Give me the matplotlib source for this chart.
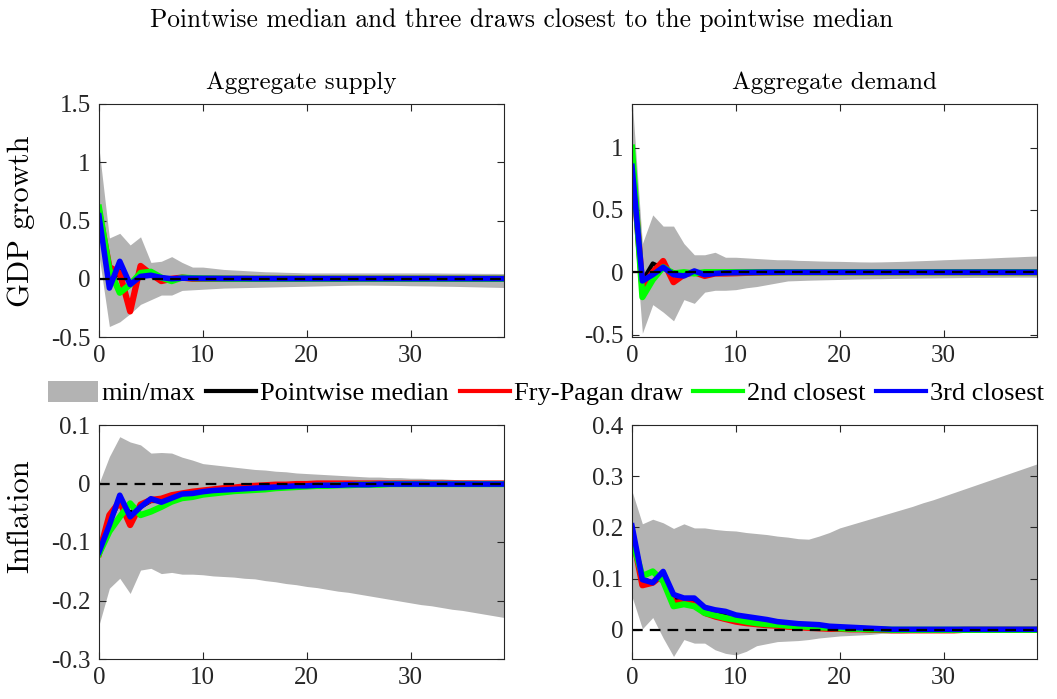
import numpy as np
import matplotlib
matplotlib.use("Agg")
import matplotlib.pyplot as plt
from matplotlib.patches import Patch
from matplotlib.lines import Line2D

plt.rcParams['font.family'] = ['Liberation Serif', 'DejaVu Serif']
plt.rcParams['axes.unicode_minus'] = False

# horizon
t = np.arange(40)

# --- GDP growth / Aggregate supply ---
gdp_as_max = [1.12, 0.35, 0.39, 0.29, 0.36, 0.14, 0.15, 0.19, 0.14, 0.10,
              0.10, 0.09, 0.08, 0.075, 0.07, 0.065, 0.06, 0.058, 0.055, 0.053,
              0.05, 0.05, 0.05, 0.05, 0.05, 0.05, 0.05, 0.05, 0.05, 0.05,
              0.05, 0.05, 0.05, 0.049, 0.048, 0.048, 0.047, 0.046, 0.046, 0.045]
gdp_as_min = [0.20, -0.41, -0.37, -0.30, -0.22, -0.18, -0.14, -0.14, -0.10, -0.095,
              -0.09, -0.085, -0.08, -0.078, -0.076, -0.074, -0.072, -0.07, -0.068, -0.066,
              -0.064, -0.062, -0.06, -0.058, -0.056, -0.055, -0.055, -0.056, -0.057, -0.058,
              -0.06, -0.061, -0.062, -0.064, -0.065, -0.067, -0.069, -0.071, -0.073, -0.075]
gdp_as_med = [0.55, -0.05, 0.07, -0.03, 0.03, 0.03, 0.01, 0.0, 0.005, 0.003,
              0.002, 0.002, 0.001, 0.001, 0.001, 0.0, 0.0, 0.0, 0.0, 0.0,
              0.0, 0.0, 0.0, 0.0, 0.0, 0.0, 0.0, 0.0, 0.0, 0.0,
              0.0, 0.0, 0.0, 0.0, 0.0, 0.0, 0.0, 0.0, 0.0, 0.0]
gdp_as_fp = [0.58, 0.10, 0.05, -0.28, 0.11, 0.04, -0.02, 0.0, 0.01, 0.0,
             0.0, 0.0, 0.0, 0.0, 0.0, 0.0, 0.0, 0.0, 0.0, 0.0,
             0.0, 0.0, 0.0, 0.0, 0.0, 0.0, 0.0, 0.0, 0.0, 0.0,
             0.0, 0.0, 0.0, 0.0, 0.0, 0.0, 0.0, 0.0, 0.0, 0.0]
gdp_as_2nd = [0.61, 0.08, -0.12, -0.05, 0.05, 0.06, 0.01, -0.02, 0.01, 0.005,
              0.003, 0.002, 0.001, 0.0, 0.0, 0.0, 0.0, 0.0, 0.0, 0.0,
              0.0, 0.0, 0.0, 0.0, 0.0, 0.0, 0.0, 0.0, 0.0, 0.0,
              0.0, 0.0, 0.0, 0.0, 0.0, 0.0, 0.0, 0.0, 0.0, 0.0]
gdp_as_3rd = [0.54, -0.08, 0.15, -0.05, 0.02, 0.03, 0.01, 0.0, 0.005, 0.004,
              0.003, 0.003, 0.002, 0.002, 0.002, 0.001, 0.001, 0.001, 0.001, 0.001,
              0.001, 0.001, 0.001, 0.001, 0.001, 0.001, 0.001, 0.001, 0.001, 0.001,
              0.001, 0.001, 0.001, 0.001, 0.001, 0.001, 0.001, 0.001, 0.001, 0.001]

# --- GDP growth / Aggregate demand ---
gdp_ad_max = [1.40, 0.23, 0.46, 0.37, 0.37, 0.23, 0.14, 0.14, 0.16, 0.12,
              0.12, 0.115, 0.11, 0.105, 0.10, 0.10, 0.095, 0.093, 0.09, 0.088,
              0.087, 0.085, 0.083, 0.082, 0.083, 0.085, 0.087, 0.09, 0.093, 0.096,
              0.10, 0.103, 0.106, 0.109, 0.112, 0.116, 0.12, 0.123, 0.127, 0.13]
gdp_ad_min = [0.60, -0.49, -0.26, -0.32, -0.39, -0.22, -0.25, -0.16, -0.145, -0.145,
              -0.14, -0.125, -0.115, -0.10, -0.085, -0.07, -0.067, -0.064, -0.062, -0.06,
              -0.058, -0.056, -0.054, -0.053, -0.052, -0.05, -0.049, -0.048, -0.047, -0.046,
              -0.045, -0.044, -0.043, -0.042, -0.042, -0.041, -0.041, -0.04, -0.04, -0.04]
gdp_ad_med = [0.85, -0.07, 0.07, 0.03, 0.0, -0.01, 0.0, -0.01, -0.005, -0.003,
              -0.002, -0.001, 0.0, 0.0, 0.0, 0.0, 0.0, 0.0, 0.0, 0.0,
              0.0, 0.0, 0.0, 0.0, 0.0, 0.0, 0.0, 0.0, 0.0, 0.0,
              0.0, 0.0, 0.0, 0.0, 0.0, 0.0, 0.0, 0.0, 0.0, 0.0]
gdp_ad_fp = [0.90, -0.12, 0.0, 0.09, -0.08, -0.02, 0.0, -0.03, -0.01, -0.01,
             -0.008, -0.005, -0.003, -0.002, -0.001, 0.0, 0.0, 0.0, 0.0, 0.0,
             0.0, 0.0, 0.0, 0.0, 0.0, 0.0, 0.0, 0.0, 0.0, 0.0,
             0.0, 0.0, 0.0, 0.0, 0.0, 0.0, 0.0, 0.0, 0.0, 0.0]
gdp_ad_2nd = [1.00, -0.20, -0.06, 0.04, -0.01, 0.0, -0.01, 0.0, 0.0, 0.0,
              0.0, 0.0, 0.0, 0.0, 0.0, 0.0, 0.0, 0.0, 0.0, 0.0,
              0.0, 0.0, 0.0, 0.0, 0.0, 0.0, 0.0, 0.0, 0.0, 0.0,
              0.0, 0.0, 0.0, 0.0, 0.0, 0.0, 0.0, 0.0, 0.0, 0.0]
gdp_ad_3rd = [0.85, -0.07, -0.02, 0.04, -0.02, -0.03, 0.01, -0.02, -0.01, -0.005,
              -0.003, -0.002, -0.001, 0.0, 0.0, 0.0, 0.0, 0.0, 0.0, 0.0,
              0.0, 0.0, 0.0, 0.0, 0.0, 0.0, 0.0, 0.0, 0.0, 0.0,
              0.0, 0.0, 0.0, 0.0, 0.0, 0.0, 0.0, 0.0, 0.0, 0.0]

# --- Inflation / Aggregate supply ---
inf_as_max = [0.0, 0.046, 0.08, 0.071, 0.066, 0.052, 0.053, 0.052, 0.045, 0.04,
              0.034, 0.032, 0.03, 0.028, 0.026, 0.024, 0.023, 0.021, 0.02, 0.018,
              0.017, 0.016, 0.015, 0.014, 0.013, 0.012, 0.011, 0.011, 0.01, 0.01,
              0.009, 0.009, 0.008, 0.008, 0.007, 0.006, 0.006, 0.005, 0.004, 0.0035]
inf_as_min = [-0.242, -0.179, -0.162, -0.188, -0.148, -0.145, -0.154, -0.152, -0.155, -0.155,
              -0.156, -0.158, -0.159, -0.16, -0.162, -0.163, -0.166, -0.168, -0.171, -0.173,
              -0.176, -0.178, -0.181, -0.184, -0.186, -0.189, -0.192, -0.195, -0.198, -0.201,
              -0.204, -0.207, -0.209, -0.212, -0.215, -0.217, -0.22, -0.223, -0.226, -0.229]
inf_as_med = [-0.12, -0.065, -0.03, -0.05, -0.04, -0.03, -0.03, -0.024, -0.019, -0.016,
              -0.014, -0.012, -0.01, -0.009, -0.008, -0.007, -0.006, -0.005, -0.004, -0.004,
              -0.003, -0.003, -0.002, -0.002, -0.002, -0.001, -0.001, -0.001, -0.001, -0.001,
              0.0, 0.0, 0.0, 0.0, 0.0, 0.0, 0.0, 0.0, 0.0, 0.0]
inf_as_fp = [-0.12, -0.054, -0.031, -0.071, -0.036, -0.028, -0.026, -0.02, -0.017, -0.014,
             -0.012, -0.01, -0.008, -0.007, -0.005, -0.004, -0.003, -0.002, -0.002, -0.001,
             -0.001, 0.0, 0.0, 0.0, 0.0, 0.0, 0.0, 0.0, 0.0, 0.0,
             0.0, 0.0, 0.0, 0.0, 0.0, 0.0, 0.0, 0.0, 0.0, 0.0]
inf_as_2nd = [-0.12, -0.082, -0.057, -0.034, -0.054, -0.048, -0.04, -0.031, -0.025, -0.023,
              -0.019, -0.017, -0.015, -0.013, -0.012, -0.011, -0.01, -0.008, -0.007, -0.006,
              -0.005, -0.004, -0.004, -0.003, -0.003, -0.002, -0.002, -0.002, -0.001, -0.001,
              -0.001, -0.001, -0.001, -0.001, -0.001, -0.001, -0.001, -0.001, -0.001, -0.001]
inf_as_3rd = [-0.117, -0.071, -0.02, -0.057, -0.04, -0.026, -0.032, -0.025, -0.018, -0.017,
              -0.014, -0.012, -0.011, -0.01, -0.009, -0.008, -0.007, -0.006, -0.005, -0.004,
              -0.004, -0.003, -0.003, -0.003, -0.002, -0.002, -0.002, -0.001, -0.001, -0.001,
              -0.001, -0.001, -0.001, -0.001, -0.001, -0.001, -0.001, -0.001, -0.001, -0.001]

# --- Inflation / Aggregate demand ---
inf_ad_max = [0.271, 0.207, 0.216, 0.209, 0.198, 0.207, 0.199, 0.199, 0.196, 0.194,
              0.193, 0.19, 0.188, 0.186, 0.183, 0.181, 0.178, 0.177, 0.183, 0.19,
              0.199, 0.205, 0.211, 0.217, 0.223, 0.229, 0.235, 0.241, 0.248, 0.254,
              0.261, 0.268, 0.275, 0.282, 0.289, 0.296, 0.303, 0.31, 0.317, 0.324]
inf_ad_min = [0.065, 0.002, 0.024, -0.016, -0.052, -0.019, -0.026, -0.026, -0.039, -0.046,
              -0.049, -0.042, -0.031, -0.027, -0.023, -0.022, -0.021, -0.019, -0.016, -0.014,
              -0.012, -0.011, -0.01, -0.009, -0.007, -0.006, -0.006, -0.005, -0.005, -0.004,
              -0.004, -0.004, -0.003, -0.003, -0.003, -0.003, -0.002, -0.002, -0.002, -0.002]
inf_ad_med = [0.20, 0.10, 0.092, 0.11, 0.06, 0.058, 0.055, 0.04, 0.034, 0.03,
              0.025, 0.021, 0.018, 0.016, 0.013, 0.011, 0.01, 0.008, 0.007, 0.006,
              0.005, 0.004, 0.003, 0.002, 0.002, 0.001, 0.001, 0.0, 0.0, 0.0,
              0.0, 0.0, 0.0, 0.0, 0.0, 0.0, 0.0, 0.0, 0.0, 0.0]
inf_ad_fp = [0.19, 0.087, 0.092, 0.108, 0.052, 0.055, 0.049, 0.033, 0.026, 0.021,
             0.016, 0.013, 0.011, 0.009, 0.008, 0.006, 0.005, 0.004, 0.003, 0.002,
             0.002, 0.001, 0.001, 0.0, 0.0, -0.001, -0.001, -0.001, -0.001, -0.001,
             -0.001, -0.001, 0.0, 0.0, 0.0, 0.0, 0.0, 0.0, 0.0, 0.0]
inf_ad_2nd = [0.177, 0.105, 0.114, 0.095, 0.046, 0.05, 0.046, 0.033, 0.028, 0.023,
              0.02, 0.016, 0.013, 0.011, 0.01, 0.008, 0.007, 0.006, 0.005, 0.004,
              0.003, 0.002, 0.002, 0.001, 0.001, 0.0, 0.0, 0.0, 0.0, 0.0,
              0.0, 0.0, 0.0, 0.0, 0.0, 0.0, 0.0, 0.0, 0.0, 0.0]
inf_ad_3rd = [0.203, 0.098, 0.092, 0.114, 0.069, 0.062, 0.062, 0.044, 0.039, 0.036,
              0.029, 0.026, 0.023, 0.02, 0.016, 0.014, 0.012, 0.011, 0.01, 0.007,
              0.006, 0.005, 0.004, 0.003, 0.002, 0.001, 0.001, 0.001, 0.001, 0.001,
              0.001, 0.001, 0.001, 0.001, 0.001, 0.001, 0.001, 0.001, 0.001, 0.001]

panels = [
    (gdp_as_min, gdp_as_max, gdp_as_med, gdp_as_fp, gdp_as_2nd, gdp_as_3rd),
    (gdp_ad_min, gdp_ad_max, gdp_ad_med, gdp_ad_fp, gdp_ad_2nd, gdp_ad_3rd),
    (inf_as_min, inf_as_max, inf_as_med, inf_as_fp, inf_as_2nd, inf_as_3rd),
    (inf_ad_min, inf_ad_max, inf_ad_med, inf_ad_fp, inf_ad_2nd, inf_ad_3rd),
]
col_titles = ['Aggregate supply', 'Aggregate demand']
row_labels = ['GDP growth', 'Inflation']
ylims = [(-0.5, 1.5), (-0.52, 1.35), (-0.3, 0.1), (-0.057, 0.4)]
yticks = [[-0.5, 0, 0.5, 1, 1.5], [-0.5, 0, 0.5, 1],
          [-0.3, -0.2, -0.1, 0, 0.1], [0, 0.1, 0.2, 0.3, 0.4]]

W, H = 1057, 699
fig = plt.figure(figsize=(W / 100, H / 100), dpi=100)

# axes boxes in pixels: left, top, right, bottom
boxes = [(99, 104, 504, 337), (632, 104, 1037, 337),
         (99, 425, 504, 659), (632, 425, 1037, 659)]
frame_col = '0.15'
gray = '#b3b3b3'

for i, (lo, hi, med, fp, c2, c3) in enumerate(panels):
    l, tp, r, b = boxes[i]
    ax = fig.add_axes([l / W, 1 - b / H, (r - l) / W, (b - tp) / H])
    ax.fill_between(t, lo, hi, color=gray, lw=0)
    ax.plot(t, med, color='k', lw=3)
    ax.plot(t, fp, color='red', lw=4.5)
    ax.plot(t, c2, color='#00ff00', lw=4.5)
    ax.plot(t, c3, color='blue', lw=4)
    ax.axhline(0, color='k', lw=1.6, ls=(0, (4.8, 3.2)))
    ax.set_xlim(0, 39)
    ax.set_ylim(*ylims[i])
    ax.set_xticks([0, 10, 20, 30])
    ax.set_yticks(yticks[i])
    ax.set_yticklabels([f'{v:g}' for v in yticks[i]])
    ax.tick_params(direction='in', length=5, width=0.8, colors=frame_col,
                   labelsize=18, top=True, right=True, pad=6)
    for s in ax.spines.values():
        s.set_color(frame_col)
        s.set_linewidth(0.8)
    if i < 2:
        ax.set_title(col_titles[i], family='cmr10', fontsize=18, pad=11)

fig.text(21 / W, 1 - 221 / H, row_labels[0], family='cmr10', fontsize=22,
         rotation=90, ha='center', va='center')
fig.text(21 / W, 1 - 516 / H, row_labels[1], family='cmr10', fontsize=22,
         rotation=90, ha='center', va='center')
fig.text(521.5 / W, 1 - 20 / H,
         'Pointwise median and three draws closest to the pointwise median',
         family='cmr10', fontsize=18.3, ha='center', va='center')

handles = [Patch(facecolor=gray, edgecolor='none'),
           Line2D([], [], color='k', lw=3),
           Line2D([], [], color='red', lw=3),
           Line2D([], [], color='#00ff00', lw=3),
           Line2D([], [], color='blue', lw=3)]
labels = ['min/max', 'Pointwise median', 'Fry-Pagan draw', '2nd closest', '3rd closest']
fig.legend(handles, labels, loc='center', bbox_to_anchor=(546 / W, 1 - 393 / H),
           ncol=5, frameon=False, fontsize=19, handlelength=1.9, handleheight=0.85,
           handletextpad=0.15, columnspacing=0.4, borderaxespad=0, borderpad=0)

fig.savefig('out.png', dpi=100)
